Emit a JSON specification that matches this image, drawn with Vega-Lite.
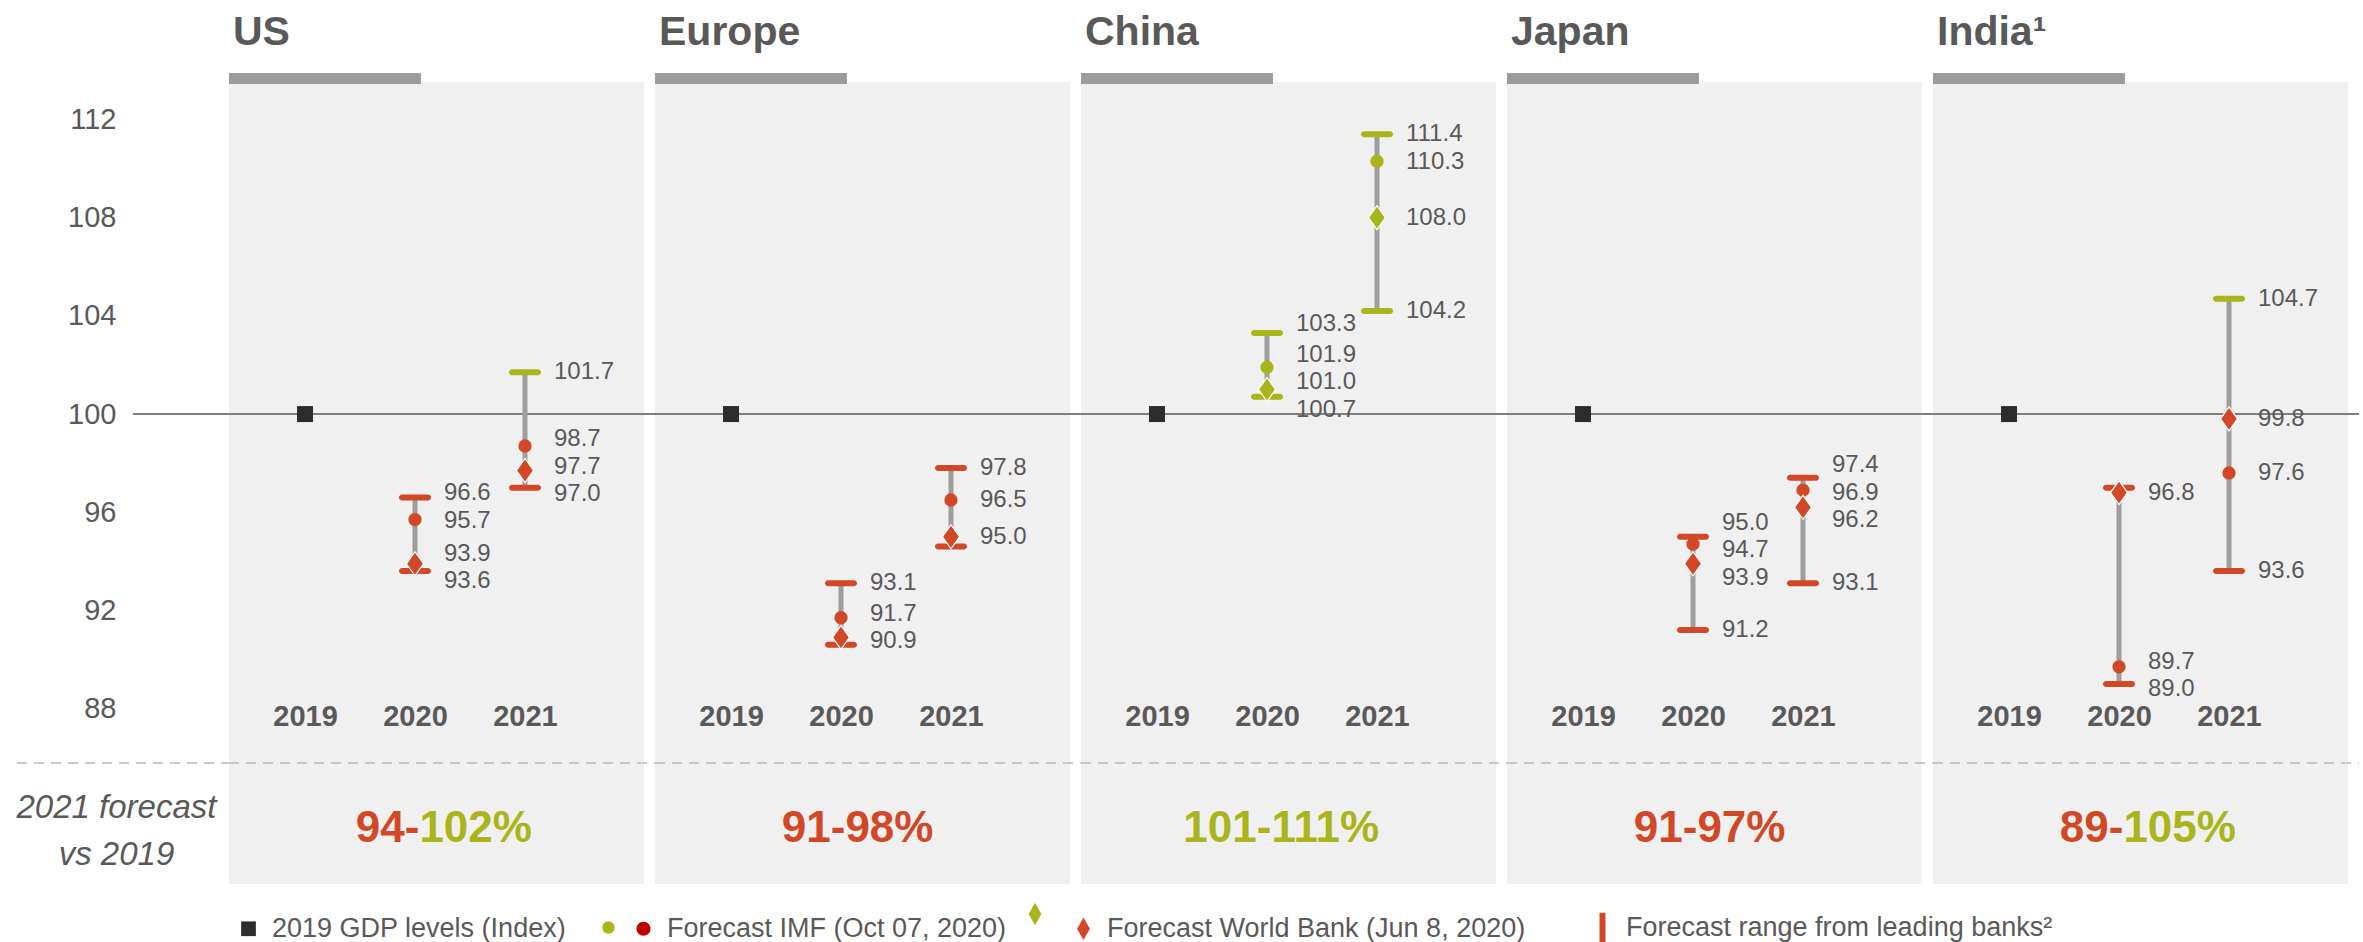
{
  "$schema": "https://vega.github.io/schema/vega-lite/v6.json",
  "background": "white",
  "autosize": {"type": "pad"},
  "padding": {"left": 16, "top": 11, "right": 0, "bottom": 0},
  "bounds": "flush",
  "spacing": 11,
  "data": {
    "values": [
      {"kind": "panel", "country": "US", "name": "US", "lo": 94, "hi": 102},
      {"kind": "panel", "country": "Europe", "name": "Europe", "lo": 91, "hi": 98},
      {"kind": "panel", "country": "China", "name": "China", "lo": 101, "hi": 111},
      {"kind": "panel", "country": "Japan", "name": "Japan", "lo": 91, "hi": 97},
      {"kind": "panel", "country": "India", "name": "India¹", "lo": 89, "hi": 105},

      {"kind": "mark", "country": "US", "year": 2019, "series": "2019 GDP levels (Index)", "value": 100},
      {"kind": "mark", "country": "US", "year": 2020, "series": "Forecast IMF (Oct 07, 2020)", "value": 95.7},
      {"kind": "mark", "country": "US", "year": 2020, "series": "Forecast World Bank (Jun 8, 2020)", "value": 93.9},
      {"kind": "mark", "country": "US", "year": 2020, "series": "range low", "value": 93.6},
      {"kind": "mark", "country": "US", "year": 2020, "series": "range high", "value": 96.6},
      {"kind": "mark", "country": "US", "year": 2021, "series": "Forecast IMF (Oct 07, 2020)", "value": 98.7},
      {"kind": "mark", "country": "US", "year": 2021, "series": "Forecast World Bank (Jun 8, 2020)", "value": 97.7},
      {"kind": "mark", "country": "US", "year": 2021, "series": "range low", "value": 97.0},
      {"kind": "mark", "country": "US", "year": 2021, "series": "range high", "value": 101.7},

      {"kind": "mark", "country": "Europe", "year": 2019, "series": "2019 GDP levels (Index)", "value": 100},
      {"kind": "mark", "country": "Europe", "year": 2020, "series": "Forecast IMF (Oct 07, 2020)", "value": 91.7},
      {"kind": "mark", "country": "Europe", "year": 2020, "series": "Forecast World Bank (Jun 8, 2020)", "value": 90.9},
      {"kind": "mark", "country": "Europe", "year": 2020, "series": "range low", "value": 90.6, "labelled": false},
      {"kind": "mark", "country": "Europe", "year": 2020, "series": "range high", "value": 93.1},
      {"kind": "mark", "country": "Europe", "year": 2021, "series": "Forecast IMF (Oct 07, 2020)", "value": 96.5},
      {"kind": "mark", "country": "Europe", "year": 2021, "series": "Forecast World Bank (Jun 8, 2020)", "value": 95.0},
      {"kind": "mark", "country": "Europe", "year": 2021, "series": "range low", "value": 94.6, "labelled": false},
      {"kind": "mark", "country": "Europe", "year": 2021, "series": "range high", "value": 97.8},

      {"kind": "mark", "country": "China", "year": 2019, "series": "2019 GDP levels (Index)", "value": 100},
      {"kind": "mark", "country": "China", "year": 2020, "series": "Forecast IMF (Oct 07, 2020)", "value": 101.9},
      {"kind": "mark", "country": "China", "year": 2020, "series": "Forecast World Bank (Jun 8, 2020)", "value": 101.0},
      {"kind": "mark", "country": "China", "year": 2020, "series": "range low", "value": 100.7},
      {"kind": "mark", "country": "China", "year": 2020, "series": "range high", "value": 103.3},
      {"kind": "mark", "country": "China", "year": 2021, "series": "Forecast IMF (Oct 07, 2020)", "value": 110.3},
      {"kind": "mark", "country": "China", "year": 2021, "series": "Forecast World Bank (Jun 8, 2020)", "value": 108.0},
      {"kind": "mark", "country": "China", "year": 2021, "series": "range low", "value": 104.2},
      {"kind": "mark", "country": "China", "year": 2021, "series": "range high", "value": 111.4},

      {"kind": "mark", "country": "Japan", "year": 2019, "series": "2019 GDP levels (Index)", "value": 100},
      {"kind": "mark", "country": "Japan", "year": 2020, "series": "Forecast IMF (Oct 07, 2020)", "value": 94.7},
      {"kind": "mark", "country": "Japan", "year": 2020, "series": "Forecast World Bank (Jun 8, 2020)", "value": 93.9},
      {"kind": "mark", "country": "Japan", "year": 2020, "series": "range low", "value": 91.2},
      {"kind": "mark", "country": "Japan", "year": 2020, "series": "range high", "value": 95.0},
      {"kind": "mark", "country": "Japan", "year": 2021, "series": "Forecast IMF (Oct 07, 2020)", "value": 96.9},
      {"kind": "mark", "country": "Japan", "year": 2021, "series": "Forecast World Bank (Jun 8, 2020)", "value": 96.2},
      {"kind": "mark", "country": "Japan", "year": 2021, "series": "range low", "value": 93.1},
      {"kind": "mark", "country": "Japan", "year": 2021, "series": "range high", "value": 97.4},

      {"kind": "mark", "country": "India", "year": 2019, "series": "2019 GDP levels (Index)", "value": 100},
      {"kind": "mark", "country": "India", "year": 2020, "series": "Forecast IMF (Oct 07, 2020)", "value": 89.7},
      {"kind": "mark", "country": "India", "year": 2020, "series": "Forecast World Bank (Jun 8, 2020)", "value": 96.8},
      {"kind": "mark", "country": "India", "year": 2020, "series": "range low", "value": 89.0},
      {"kind": "mark", "country": "India", "year": 2020, "series": "range high", "value": 97.0, "labelled": false},
      {"kind": "mark", "country": "India", "year": 2021, "series": "Forecast IMF (Oct 07, 2020)", "value": 97.6},
      {"kind": "mark", "country": "India", "year": 2021, "series": "Forecast World Bank (Jun 8, 2020)", "value": 99.8},
      {"kind": "mark", "country": "India", "year": 2021, "series": "range low", "value": 93.6},
      {"kind": "mark", "country": "India", "year": 2021, "series": "range high", "value": 104.7}
    ]
  },
  "facet": {
    "column": {
      "field": "country",
      "type": "nominal",
      "sort": ["US", "Europe", "China", "Japan", "India"],
      "title": null,
      "header": {"labels": false, "title": null}
    }
  },
  "resolve": {"axis": {"x": "independent"}},
  "spec": {
    "width": 415,
    "height": 802,
    "layer": [
      {
        "transform": [{"filter": "datum.kind === 'panel'"}],
        "mark": {"type": "rect", "color": "#f0f0f0", "opacity": 1},
        "encoding": {
          "x": {"datum": 2018.309, "type": "quantitative", "scale": {"domain": [2018.309, 2022.082], "nice": false, "zero": false}},
          "x2": {"datum": 2022.082},
          "y": {"datum": 113.53, "type": "quantitative", "scale": {"domain": [80.85, 113.53], "nice": false, "zero": false}},
          "y2": {"datum": 80.85}
        }
      },
      {
        "transform": [{"filter": "datum.kind === 'panel'"}],
        "mark": {"type": "rect", "color": "#9b9b9b", "opacity": 1},
        "encoding": {
          "x": {"datum": 2018.309, "type": "quantitative", "scale": {"domain": [2018.309, 2022.082], "nice": false, "zero": false}},
          "x2": {"datum": 2020.054},
          "y": {"datum": 113.9, "type": "quantitative", "scale": {"domain": [80.85, 113.53], "nice": false, "zero": false}},
          "y2": {"datum": 113.45}
        }
      },
      {
        "transform": [{"filter": "datum.kind === 'panel'"}],
        "mark": {"type": "text", "align": "left", "baseline": "alphabetic", "dx": 4, "fontSize": 41, "fontWeight": "bold", "font": "Liberation Sans", "color": "#595959"},
        "encoding": {
          "x": {"datum": 2018.309, "type": "quantitative", "scale": {"domain": [2018.309, 2022.082], "nice": false, "zero": false}},
          "y": {"datum": 115.04, "type": "quantitative", "scale": {"domain": [80.85, 113.53], "nice": false, "zero": false}},
          "text": {"field": "name", "type": "nominal"}
        }
      },
      {
        "transform": [{"filter": "datum.kind === 'panel'"}],
        "mark": {"type": "rule", "color": "#7f7f7f", "strokeWidth": 2},
        "encoding": {
          "x": {"datum": 2018.309, "type": "quantitative", "scale": {"domain": [2018.309, 2022.082], "nice": false, "zero": false}},
          "x2": {"datum": 2022.182},
          "y": {"datum": 100, "type": "quantitative", "scale": {"domain": [80.85, 113.53], "nice": false, "zero": false}}
        }
      },
      {
        "transform": [{"filter": "datum.kind === 'panel' && datum.country === 'US'"}],
        "mark": {"type": "rule", "color": "#7f7f7f", "strokeWidth": 2},
        "encoding": {
          "x": {"datum": 2017.436, "type": "quantitative", "scale": {"domain": [2018.309, 2022.082], "nice": false, "zero": false}},
          "x2": {"datum": 2018.309},
          "y": {"datum": 100, "type": "quantitative", "scale": {"domain": [80.85, 113.53], "nice": false, "zero": false}}
        }
      },
      {
        "transform": [{"filter": "datum.kind === 'panel'"}],
        "mark": {"type": "rule", "color": "#c8c8c8", "strokeWidth": 2, "strokeDash": [10, 7]},
        "encoding": {
          "x": {"datum": 2018.309, "type": "quantitative", "scale": {"domain": [2018.309, 2022.082], "nice": false, "zero": false}},
          "x2": {"datum": 2022.182},
          "y": {"datum": 85.78, "type": "quantitative", "scale": {"domain": [80.85, 113.53], "nice": false, "zero": false}}
        }
      },
      {
        "transform": [{"filter": "datum.kind === 'panel' && datum.country === 'US'"}],
        "mark": {"type": "rule", "color": "#c8c8c8", "strokeWidth": 2, "strokeDash": [10, 7]},
        "encoding": {
          "x": {"datum": 2016.382, "type": "quantitative", "scale": {"domain": [2018.309, 2022.082], "nice": false, "zero": false}},
          "x2": {"datum": 2018.309},
          "y": {"datum": 85.78, "type": "quantitative", "scale": {"domain": [80.85, 113.53], "nice": false, "zero": false}}
        }
      },
      {
        "transform": [{"filter": "datum.kind === 'mark' && (datum.series === 'range low' || datum.series === 'range high')"}],
        "mark": {"type": "rule", "color": "#9e9e9e", "strokeWidth": 5},
        "encoding": {
          "x": {"field": "year", "type": "quantitative", "scale": {"domain": [2018.309, 2022.082], "nice": false, "zero": false}},
          "y": {"aggregate": "min", "field": "value", "type": "quantitative", "scale": {"domain": [80.85, 113.53], "nice": false, "zero": false}},
          "y2": {"aggregate": "max", "field": "value"}
        }
      },
      {
        "transform": [{"filter": "datum.kind === 'mark' && (datum.series === 'range low' || datum.series === 'range high')"}],
        "mark": {"type": "tick", "orient": "horizontal", "size": 32, "thickness": 6, "cornerRadius": 3, "opacity": 1},
        "encoding": {
          "x": {"field": "year", "type": "quantitative", "scale": {"domain": [2018.309, 2022.082], "nice": false, "zero": false}},
          "y": {"field": "value", "type": "quantitative", "scale": {"domain": [80.85, 113.53], "nice": false, "zero": false}},
          "color": {"condition": {"test": "datum.value >= 100", "value": "#a9b51a"}, "value": "#d24826"}
        }
      },
      {
        "transform": [{"filter": "datum.kind === 'mark' && datum.series === '2019 GDP levels (Index)'"}],
        "mark": {"type": "point", "shape": "square", "filled": true, "size": 256, "opacity": 1, "color": "#2d2d2d"},
        "encoding": {
          "x": {
            "field": "year", "type": "quantitative",
            "scale": {"domain": [2018.309, 2022.082], "nice": false, "zero": false},
            "axis": {
              "values": [2019, 2020, 2021], "format": "d", "title": null,
              "domain": false, "ticks": false, "grid": false, "zindex": 1,
              "labelFont": "Liberation Sans", "labelFontSize": 29, "labelFontWeight": "bold", "labelColor": "#595959",
              "labelPadding": 0, "labelBaseline": "middle", "offset": -168,
              "labelFlush": false, "labelOverlap": false
            }
          },
          "y": {
            "field": "value", "type": "quantitative",
            "scale": {"domain": [80.85, 113.53], "nice": false, "zero": false},
            "axis": {
              "values": [112, 108, 104, 100, 96, 92, 88, 83.95], "format": "d", "title": null,
              "domain": false, "ticks": false, "grid": false,
              "labelExpr": "datum.value === 83.95 ? ['2021 forecast', 'vs 2019'] : datum.label",
              "labelFont": "Liberation Sans", "labelColor": "#595959", "labelLimit": 400,
              "labelFontSize": {"condition": {"test": "datum.value === 83.95", "value": 33}, "value": 29},
              "labelFontStyle": {"condition": {"test": "datum.value === 83.95", "value": "italic"}, "value": "normal"},
              "labelAlign": {"condition": {"test": "datum.value === 83.95", "value": "center"}, "value": "right"},
              "labelBaseline": "middle", "labelLineHeight": 47,
              "labelPadding": 113, "labelOverlap": false, "labelFlush": false
            }
          }
        }
      },
      {
        "transform": [{"filter": "datum.kind === 'mark' && datum.series === 'Forecast IMF (Oct 07, 2020)'"}],
        "mark": {"type": "point", "shape": "circle", "filled": true, "size": 177, "opacity": 1},
        "encoding": {
          "x": {"field": "year", "type": "quantitative", "scale": {"domain": [2018.309, 2022.082], "nice": false, "zero": false}},
          "y": {"field": "value", "type": "quantitative", "scale": {"domain": [80.85, 113.53], "nice": false, "zero": false}},
          "color": {"condition": {"test": "datum.value >= 100", "value": "#a9b51a"}, "value": "#d24826"}
        }
      },
      {
        "transform": [{"filter": "datum.kind === 'mark' && datum.series === 'Forecast World Bank (Jun 8, 2020)'"}],
        "mark": {"type": "point", "shape": "M0,-1L0.71,0L0,1L-0.71,0Z", "filled": true, "size": 576, "opacity": 1, "stroke": "white", "strokeWidth": 1.2},
        "encoding": {
          "x": {"field": "year", "type": "quantitative", "scale": {"domain": [2018.309, 2022.082], "nice": false, "zero": false}},
          "y": {"field": "value", "type": "quantitative", "scale": {"domain": [80.85, 113.53], "nice": false, "zero": false}},
          "color": {"condition": {"test": "datum.value >= 100", "value": "#a9b51a"}, "value": "#d24826"}
        }
      },
      {
        "transform": [{"filter": "datum.kind === 'legend-only'"}],
        "mark": {"type": "point", "filled": true, "size": 256, "opacity": 1, "strokeWidth": 0},
        "encoding": {
          "shape": {
            "field": "series", "type": "nominal",
            "scale": {
              "domain": ["2019 GDP levels (Index)", "Forecast IMF (Oct 07, 2020)", "Forecast World Bank (Jun 8, 2020)", "Forecast range from leading banks²"],
              "range": [
                "M-0.92,-0.92H0.92V0.92H-0.92Z",
                "M-0.875,0A0.875,0.875 0 1,0 0.875,0A0.875,0.875 0 1,0 -0.875,0Z",
                "M0,-1.4L0.8,0L0,1.4L-0.8,0Z",
                "M-0.375,-1.875H0.375V1.875H-0.375Z"
              ]
            },
            "legend": {
              "orient": "none", "legendX": 6, "legendY": 832,
              "direction": "horizontal", "title": null,
              "labelFont": "Liberation Sans", "labelFontSize": 27, "labelColor": "#595959", "labelLimit": 1000,
              "symbolSize": 256, "labelOffset": 10, "columnPadding": 63, "padding": 0,
              "symbolStrokeWidth": 0, "symbolOpacity": 1
            }
          },
          "color": {
            "field": "series", "type": "nominal",
            "scale": {
              "domain": ["2019 GDP levels (Index)", "Forecast IMF (Oct 07, 2020)", "Forecast World Bank (Jun 8, 2020)", "Forecast range from leading banks²"],
              "range": ["#2d2d2d", "#c00000", "#d24826", "#d24826"]
            },
            "legend": {
              "orient": "none", "legendX": 6, "legendY": 832,
              "direction": "horizontal", "title": null,
              "labelFont": "Liberation Sans", "labelFontSize": 27, "labelColor": "#595959", "labelLimit": 1000,
              "symbolSize": 256, "labelOffset": 10, "columnPadding": 63, "padding": 0,
              "symbolStrokeWidth": 0, "symbolOpacity": 1
            }
          }
        }
      },
      {
        "transform": [{"filter": "datum.kind === 'legend-only'"}],
        "mark": {"type": "point", "shape": "circle", "filled": true, "size": 154, "color": "#a9b51a", "strokeWidth": 0},
        "encoding": {
          "opacity": {
            "field": "series", "type": "ordinal",
            "scale": {"domain": ["IMF, above 2019 level"], "range": [1]},
            "legend": {
              "orient": "none", "legendX": 366, "legendY": 832,
              "title": null, "labelExpr": "''",
              "labelFont": "Liberation Sans", "labelFontSize": 27,
              "symbolType": "circle", "symbolSize": 154, "symbolFillColor": "#a9b51a",
              "symbolStrokeWidth": 0, "padding": 0, "labelOffset": 0
            }
          }
        }
      },
      {
        "transform": [{"filter": "datum.kind === 'legend-only'"}],
        "mark": {"type": "point", "shape": "M0,-1.4L0.8,0L0,1.4L-0.8,0Z", "filled": true, "size": 256, "color": "#a9b51a", "opacity": 1},
        "encoding": {
          "strokeWidth": {
            "field": "name", "type": "ordinal",
            "scale": {"domain": ["World Bank, above 2019 level"], "range": [0]},
            "legend": {
              "orient": "none", "legendX": 806, "legendY": 832,
              "title": null, "labelExpr": "''",
              "labelFont": "Liberation Sans", "labelFontSize": 27,
              "symbolType": "M0,-1.4L0.8,0L0,1.4L-0.8,0Z", "symbolSize": 256, "symbolFillColor": "#a9b51a",
              "symbolOpacity": 1, "padding": 0, "labelOffset": 0
            }
          }
        }
      },
      {
        "transform": [
          {"filter": "datum.kind === 'mark' && datum.series !== '2019 GDP levels (Index)' && datum.labelled !== false"},
          {"window": [{"op": "row_number", "as": "rank"}], "groupby": ["country", "year"], "sort": [{"field": "value", "order": "descending"}]},
          {"calculate": "datum.value + datum.rank * 1.12", "as": "u"},
          {"window": [{"op": "min", "field": "u", "as": "umin"}], "groupby": ["country", "year"], "sort": [{"field": "value", "order": "descending"}], "frame": [null, 0]},
          {"window": [{"op": "max", "field": "u", "as": "umax"}], "groupby": ["country", "year"], "sort": [{"field": "value", "order": "descending"}], "frame": [0, null]},
          {"calculate": "(datum.umin + datum.umax) / 2 - datum.rank * 1.12", "as": "labelAt"}
        ],
        "mark": {"type": "text", "align": "left", "baseline": "middle", "dx": 29, "fontSize": 24, "font": "Liberation Sans", "color": "#595959"},
        "encoding": {
          "x": {"field": "year", "type": "quantitative", "scale": {"domain": [2018.309, 2022.082], "nice": false, "zero": false}},
          "y": {"field": "labelAt", "type": "quantitative", "scale": {"domain": [80.85, 113.53], "nice": false, "zero": false}},
          "text": {"field": "value", "type": "quantitative", "format": ".1f"}
        }
      },
      {
        "transform": [{"filter": "datum.kind === 'panel'"}, {"calculate": "datum.lo + '-'", "as": "loText"}],
        "mark": {"type": "text", "align": "right", "baseline": "middle", "fontSize": 44, "fontWeight": "bold", "font": "Liberation Sans"},
        "encoding": {
          "x": {"datum": 2020.04, "type": "quantitative", "scale": {"domain": [2018.309, 2022.082], "nice": false, "zero": false}},
          "y": {"datum": 83.1, "type": "quantitative", "scale": {"domain": [80.85, 113.53], "nice": false, "zero": false}},
          "text": {"field": "loText", "type": "nominal"},
          "color": {"condition": {"test": "datum.lo >= 100", "value": "#a9b51a"}, "value": "#d24826"}
        }
      },
      {
        "transform": [{"filter": "datum.kind === 'panel'"}, {"calculate": "datum.hi + '%'", "as": "hiText"}],
        "mark": {"type": "text", "align": "left", "baseline": "middle", "fontSize": 44, "fontWeight": "bold", "font": "Liberation Sans"},
        "encoding": {
          "x": {"datum": 2020.04, "type": "quantitative", "scale": {"domain": [2018.309, 2022.082], "nice": false, "zero": false}},
          "y": {"datum": 83.1, "type": "quantitative", "scale": {"domain": [80.85, 113.53], "nice": false, "zero": false}},
          "text": {"field": "hiText", "type": "nominal"},
          "color": {"condition": {"test": "datum.hi >= 100", "value": "#a9b51a"}, "value": "#d24826"}
        }
      }
    ]
  },
  "config": {
    "view": {"stroke": null},
    "font": "Liberation Sans"
  }
}
